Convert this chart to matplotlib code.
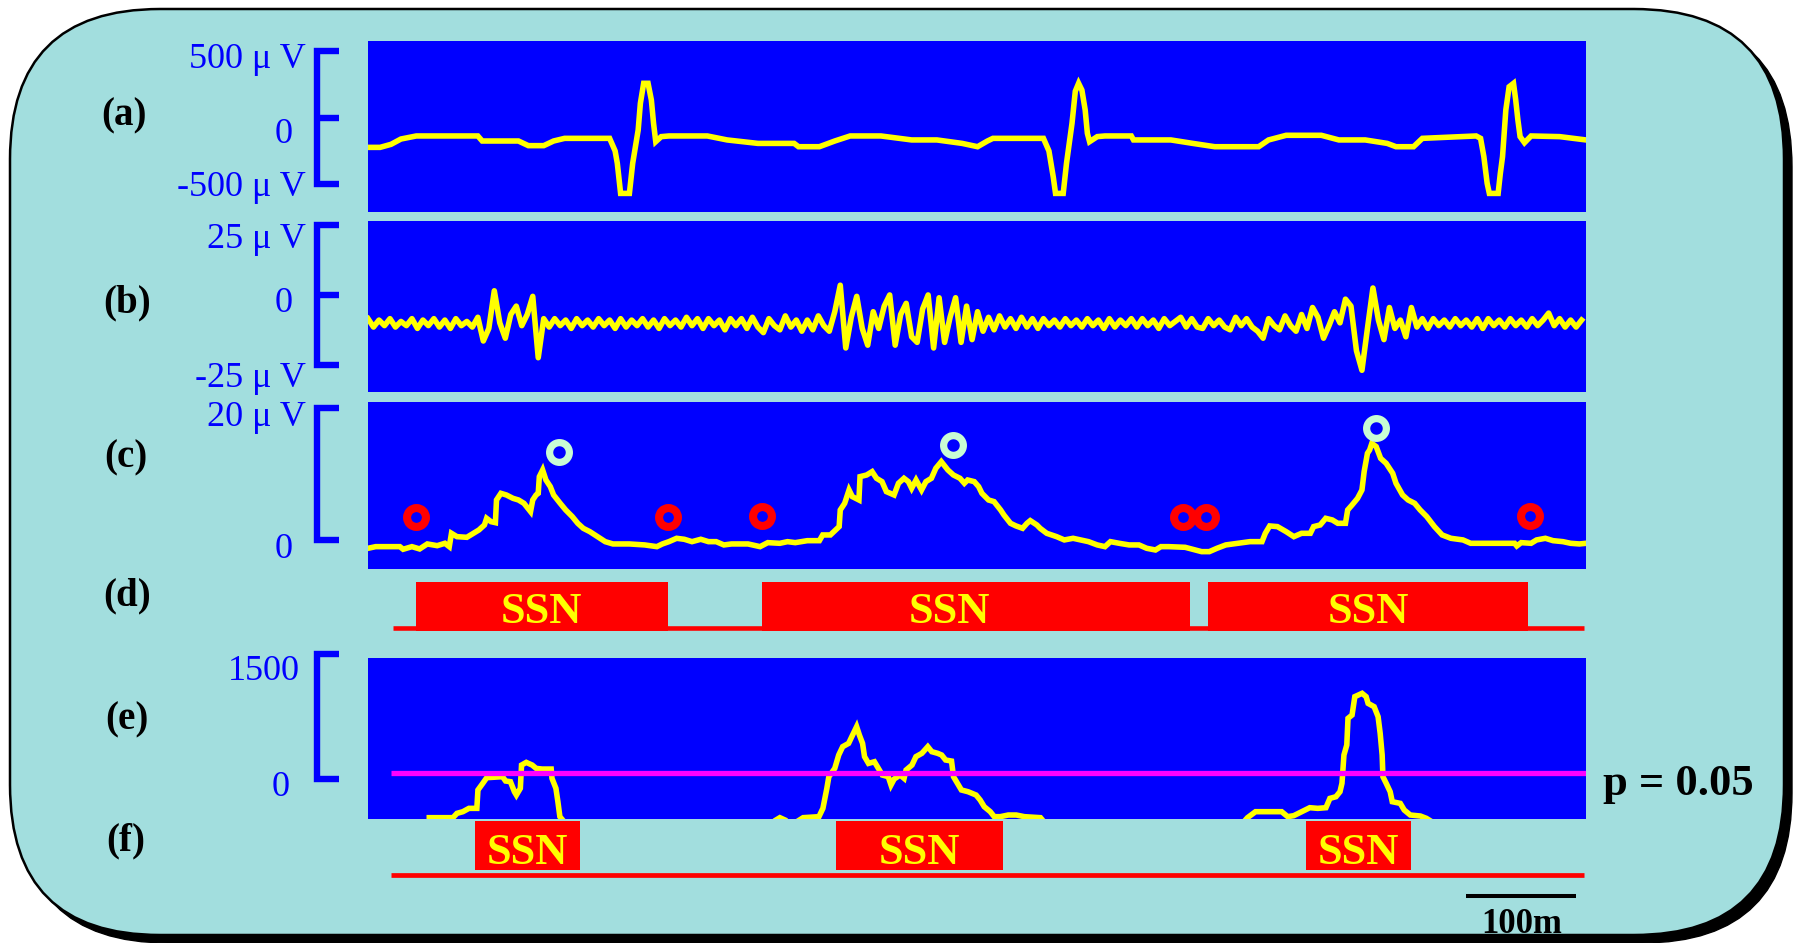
import numpy as np
import matplotlib
matplotlib.use('Agg')
import matplotlib.pyplot as plt
from matplotlib.patches import FancyBboxPatch, Rectangle
from matplotlib.transforms import blended_transform_factory

plt.rcParams['font.family'] = ['Liberation Serif', 'DejaVu Serif']

# ---------------- data (time in ms) ----------------
# (a) ECG, microvolts
ecg_t = [0, 11, 21, 30, 44, 100, 104, 137, 146, 160, 169, 179, 220, 225, 227, 230, 238, 241, 246, 248,
         251, 255, 258, 260, 262, 267, 274, 309, 327, 355, 388, 392, 411, 425, 439, 467, 495, 518, 541, 555,
         564, 569, 615, 620, 624, 626, 633, 636, 641, 644, 647, 650, 653, 655, 657, 664, 671, 695, 697, 731,
         751, 771, 811, 820, 836, 868, 884, 908, 928, 936, 952, 960, 1009, 1013, 1016, 1019, 1021, 1029, 1031, 1033,
         1036, 1039, 1043, 1045, 1047, 1049, 1053, 1059, 1085, 1109]
ecg_v = [-223, -223, -200, -160, -137, -137, -175, -175, -210, -210, -175, -155, -155, -250, -343, -570, -570, -343, -92, 109,
         260, 260, 134, -42, -180, -142, -137, -137, -167, -193, -193, -218, -218, -175, -137, -137, -167, -167, -193, -218,
         -175, -155, -155, -250, -450, -570, -570, -343, -42, 200, 260, 209, 59, -117, -180, -142, -137, -137, -167, -167,
         -193, -218, -218, -167, -132, -132, -167, -167, -193, -218, -218, -155, -137, -155, -293, -494, -570, -570, -419, -293,
         59, 234, 260, 134, -17, -142, -188, -137, -142, -167]

# (b) EMG, microvolts, one value every 5 ms
emg_v = [-8.5, -11.5, -9, -11, -8.5, -11.5, -9.5, -11, -8.5, -12,
         -9, -11, -8.5, -11.5, -9, -12, -8.5, -11, -9.5, -11.5,
         -8, -16.5, -12, 1.5, -10, -15.5, -7, -4, -11, -7,
         -0.5, -22.5, -8.5, -11.5, -8.5, -11, -9, -12, -8.5, -11,
         -9, -11.5, -8.5, -11, -9, -12, -8.5, -11.5, -9, -11,
         -8.5, -11.5, -9, -12, -8.5, -11, -9, -11.5, -8, -11,
         -8.5, -12, -8.5, -11, -9, -12.5, -8.5, -11, -8.5, -12,
         -8, -11.5, -13.5, -8.5, -11, -12.5, -7.5, -11.5, -9, -13,
         -9, -12.5, -7.5, -11, -13, -6, 3.5, -19, -8, -0.5,
         -12, -18, -6, -12, -4, 0, -18, -7, -3, -15,
         -17, -5, 0, -19, -1, -17, -8, -1, -17, -4,
         -16, -6, -13, -8, -12.5, -7.5, -11.5, -8.5, -12, -8,
         -11.5, -8.5, -12, -8.5, -11, -9, -11.5, -8.5, -11, -9,
         -11.5, -8.5, -11, -9, -12, -8.5, -11.5, -9, -11, -8.5,
         -11.5, -8.5, -11, -9, -12, -8.5, -11, -9.5, -8, -11.5,
         -8.5, -11.5, -12, -8.5, -11, -9, -11.5, -12.5, -8, -11,
         -8.5, -11.5, -13, -15.5, -8.5, -11, -12.5, -7.5, -11, -13,
         -7, -12, -4.5, -8, -15.5, -11, -6, -10, -1.5, -4,
         -20, -27, -12, 2.5, -9, -16, -4.5, -12, -9, -15,
         -4.5, -11.5, -8.5, -12, -8.5, -11, -9, -11.5, -8.5, -11,
         -9, -11.5, -8.5, -12, -8.5, -11, -9, -11.5, -8.5, -11,
         -9, -11.5, -8.5, -11, -9, -6.5, -11, -8.5, -11.5, -9,
         -11.5, -9]
emg_step = 5

# (c) envelope, microvolts
env_t = [0, 7, 29, 32, 40, 47, 54, 63, 70, 74,
         76, 81, 90, 96, 101, 106, 108, 112, 116, 117,
         121, 126, 132, 137, 142, 148, 150, 153, 155, 156,
         159, 162, 166, 169, 175, 180, 186, 191, 196, 202,
         209, 216, 223, 238, 252, 263, 268, 274, 281, 288,
         295, 303, 310, 317, 324, 331, 346, 357, 364, 375,
         382, 389, 400, 411, 414, 421, 429, 430, 434, 438,
         441, 447, 448, 454, 459, 463, 468, 472, 479, 483,
         488, 492, 495, 499, 504, 508, 513, 517, 522, 528,
         533, 539, 543, 546, 552, 556, 559, 565, 570, 576,
         579, 585, 590, 596, 600, 603, 609, 612, 618, 627,
         634, 642, 649, 656, 664, 671, 676, 684, 693, 702,
         709, 717, 722, 729, 744, 751, 759, 766, 773, 781,
         792, 803, 814, 817, 821, 828, 836, 843, 850, 858,
         861, 867, 872, 878, 883, 890, 892, 896, 901, 905,
         907, 910, 912, 914, 918, 922, 927, 933, 936, 942,
         947, 953, 958, 964, 971, 978, 986, 997, 1004, 1015,
         1044, 1046, 1050, 1059, 1064, 1072, 1079, 1088, 1095, 1103,
         1109]
env_v = [-1.3, -1.05, -1.05, -1.45, -1.05, -1.4, -0.64, -0.9, -0.54, -1.05,
         0.98, 0.47, 0.37, 0.98, 1.49, 2.25, 3.26, 2.75, 2.6, 6.05,
         7.06, 6.81, 6.3, 6.05, 5.54, 4.28, 6.05, 6.81, 7.06, 9.6,
         10.61, 9.09, 8.08, 6.81, 5.54, 4.53, 3.52, 2.5, 1.74, 1.23,
         0.47, -0.29, -0.64, -0.64, -0.79, -1.05, -0.64, -0.29, 0.22, 0.07,
         -0.29, 0.07, -0.29, -0.29, -0.79, -0.64, -0.64, -1.05, -0.44, -0.54,
         -0.29, -0.44, -0.14, -0.14, 0.73, 0.73, 2.0, 4.53, 5.54, 7.57,
         6.56, 6.05, 9.6, 9.85, 10.36, 9.35, 8.84, 7.32, 6.81, 8.59,
         9.35, 8.84, 7.83, 9.09, 7.57, 8.84, 9.35, 10.87, 11.88, 10.61,
         9.85, 9.35, 8.59, 9.09, 8.84, 8.08, 7.06, 6.05, 5.8, 4.53,
         3.77, 2.5, 2.1, 1.74, 2.5, 2.91, 2.25, 1.74, 0.98, 0.47,
         -0.03, 0.22, -0.03, -0.29, -0.79, -1.05, -0.29, -0.54, -0.79, -0.79,
         -1.3, -1.56, -1.05, -1.05, -1.15, -1.45, -1.81, -1.81, -1.3, -0.79,
         -0.54, -0.29, -0.29, 0.98, 2.1, 2.0, 1.23, 0.47, 0.98, 0.98,
         2.0, 2.25, 3.26, 3.01, 2.5, 2.5, 4.53, 5.29, 6.3, 7.57,
         10.36, 13.15, 13.66, 14.67, 14.16, 12.39, 11.63, 10.11, 8.59, 6.81,
         6.05, 5.54, 4.53, 3.52, 2.0, 0.73, 0.22, -0.03, -0.54, -0.54,
         -0.54, -0.95, -0.44, -0.54, -0.03, 0.22, -0.14, -0.29, -0.54, -0.64,
         -0.54]
peak_t = [173.6, 532.4, 917.9]
peak_v = [13.3, 14.4, 16.95]
onset_t = [43.9, 273.0, 358.8, 742.2, 763.1, 1058.1]
onset_v = [3.41, 3.41, 3.67, 3.41, 3.41, 3.62]

# (d) detected SSN intervals
d_start = [43.5, 358.3, 764.5]
d_end = [272.9, 748.4, 1056.5]
d_label_t = [158, 529, 911]

# (e) statistic (nan = below the visible range)
nan = np.nan
stat_t = [55.8, 77.4, 81.0, 86.4, 91.9, 99.1, 100.1, 104.5, 108.1, 122.5, 125.3, 129.7, 133.3, 135.1, 138.7,
          139.8, 144.1, 149.5, 153.1, 158.5, 166.8, 167.5, 171.1, 172.9, 174.7, 177.2,
          180,
          372, 375, 379,
          381,
          393, 396.2, 410.6, 414.2, 417.8, 419.6, 425.0, 428.6, 432.2, 437.6, 441.2, 444.9, 447.4, 450.3, 452.1,
          455.7, 461.1, 464.7, 468.3, 473.7, 476.2, 479.1, 484.5, 488.1, 489.9, 495.3, 498.9, 504.3, 509.7, 513.3,
          518.7, 522.3, 525.9, 531.3, 533.1, 536.7, 540.3, 546.4, 553.7, 557.4, 561.1, 566.6, 570.2, 575.7, 583.0,
          590.3, 597.7, 612.3, 614,
          700,
          799, 800.8, 808.1, 831.9, 837.4, 842.9, 850.2, 857.5, 864.8, 872.2, 875.8, 881.3, 885.0, 886.8, 888.6,
          891.2, 892.3, 896.0, 898.5, 905.1, 908.8, 910.6, 916.1, 919.7, 921.6, 923.4, 924.1, 927.1, 930.7, 932.6,
          939.9, 943.5, 949.0, 958.2, 963.7, 966]
stat_v = [-468, -468, -416, -396, -356, -356, -135, -55, 13, 25, -27, -35, -156, -196, -115,
          165, 197, 165, 125, 117, 117, 5, -115, -276, -456, -496,
          nan,
          -492, -468, -492,
          nan,
          -495, -468, -456, -356, -115, 25, 125, 286, 386, 426, 526, 627, 526, 426, 266,
          185, 205, 125, 45, 25, -75, -3, 45, 5, 105, 165, 266, 306, 386, 326,
          306, 286, 226, 213, 25, -55, -135, -156, -196, -256, -336, -396, -456, -456, -436,
          -436, -456, -468, -495,
          nan,
          -495, -468, -396, -396, -456, -444, -396, -348, -356, -348, -236, -216, -156, -55, 286,
          406, 727, 767, 988, 1028, 988, 907, 867, 747, 546, 286, 25, -55, -156, -276,
          -296, -376, -436, -448, -476, -495]
threshold = 70  # p = 0.05

# (f) significant SSN intervals
f_start = [97.3, 426.0, 854.0]
f_end = [192.9, 578.0, 950.0]

# ---------------- figure ----------------
W, H = 1793, 943
fig = plt.figure(figsize=(W / 100, H / 100), dpi=100)
fig.patch.set_facecolor('white')

bg = fig.add_axes([0, 0, 1, 1])
bg.set_zorder(0)
bg.axis('off')

BOXC = '#a2dede'
bstyle = 'round,pad=0,rounding_size=150'
bg.add_patch(FancyBboxPatch((18, 17), 1774, 926, boxstyle=bstyle, fc='black', ec='black', lw=1))
bg.add_patch(FancyBboxPatch((10, 9), 1774, 926, boxstyle=bstyle, fc=BOXC, ec='black', lw=1.8))

PX0, PX1 = 368, 1586
XMAX = 1109
BLUE = '#0000ff'
YEL = '#ffff00'
LW = 4.0


def panel(y0, y1, ylim):
    ax = fig.add_axes([PX0 / W, 1 - y1 / H, (PX1 - PX0) / W, (y1 - y0) / H])
    ax.set_zorder(1)
    ax.set_facecolor(BLUE)
    ax.set_xlim(0, XMAX)
    ax.set_ylim(*ylim)
    ax.set_xticks([])
    ax.set_yticks([])
    for s in ax.spines.values():
        s.set_visible(False)
    return ax


def bracket(ax, top, bottom, mid=None):
    tr = blended_transform_factory(bg.transData, ax.transData)
    bg.plot([339, 317, 317, 339], [top, top, bottom, bottom], transform=tr, color=BLUE, lw=4.6,
            solid_joinstyle='miter', solid_capstyle='butt', clip_on=False)
    if mid is not None:
        bg.plot([317, 339], [mid, mid], transform=tr, color=BLUE, lw=4.6,
                solid_capstyle='butt', clip_on=False)


# (a)
ax_a = panel(41, 211.7, (-708, 579))
ax_a.plot(ecg_t, ecg_v, color=YEL, lw=LW, solid_joinstyle='miter')
bracket(ax_a, 500, -500, 0)

# (b)
ax_b = panel(221, 391.5, (-34.6, 26.5))
emg_t = np.arange(len(emg_v)) * emg_step
ax_b.plot(emg_t, emg_v, color=YEL, lw=LW)
bracket(ax_b, 25, -25, 0)

# (c)
ax_c = panel(401.7, 569, (-4.45, 21.0))
ax_c.plot(env_t, env_v, color=YEL, lw=LW, solid_joinstyle='miter')
ax_c.plot(peak_t, peak_v, 'o', ms=14.2, mfc='none', mec='#c8fcd4', mew=5.2)
ax_c.plot(onset_t, onset_v, 'o', ms=13.6, mfc='none', mec='#ff0000', mew=5.8)
bracket(ax_c, 20, 0)

# (d)
ax_d = fig.add_axes([PX0 / W, 1 - 660 / H, (PX1 - PX0) / W, 90 / H])
ax_d.set_zorder(1)
ax_d.set_xlim(0, XMAX)
ax_d.set_ylim(660, 570)
ax_d.axis('off')
ax_d.plot([22.9, 1107], [628.3, 628.3], color='red', lw=3.3, solid_capstyle='butt')
for s0, s1 in zip(d_start, d_end):
    ax_d.add_patch(Rectangle((s0, 582), s1 - s0, 48.6, fc='red', ec='none'))
for tx in d_label_t:
    ax_d.text(tx, 623, 'SSN', ha='center', va='baseline', fontsize=32,
              fontweight='bold', color=YEL)

# (e)
ax_e = panel(658, 819, (-484, 1453))
ax_e.plot(stat_t, stat_v, color=YEL, lw=LW, solid_joinstyle='miter')
ax_e.plot([20.9, XMAX], [threshold, threshold], color='#ff00ff', lw=3.8, solid_capstyle='butt')
bracket(ax_e, 1500, 0)

# (f)
ax_f = fig.add_axes([PX0 / W, 0, (PX1 - PX0) / W, (H - 819) / H])
ax_f.set_zorder(1)
ax_f.set_xlim(0, XMAX)
ax_f.set_ylim(H, 819)
ax_f.axis('off')
ax_f.plot([20.8, 1107], [875, 875], color='red', lw=3.4, solid_capstyle='butt')
for s0, s1 in zip(f_start, f_end):
    ax_f.add_patch(Rectangle((s0, 821), s1 - s0, 49, fc='red', ec='none'))
    ax_f.text((s0 + s1) / 2, 864.5, 'SSN', ha='center', va='baseline', fontsize=32,
              fontweight='bold', color=YEL)
# time scale bar: 100 ms
ax_f.plot([1000, 1100], [896, 896], color='black', lw=2.9, solid_capstyle='butt', clip_on=False)
ax_f.text(1050, 933, '100m', ha='center', va='baseline', fontsize=25, fontweight='bold',
          color='black', clip_on=False)

# scale labels
lab = dict(ha='right', va='baseline', fontsize=26, color=BLUE)
bg.text(306, 68, '500 \u03bc V', **lab)
bg.text(293, 143, '0', **lab)
bg.text(306, 196.5, '-500 \u03bc V', **lab)
bg.text(306, 248, '25 \u03bc V', **lab)
bg.text(293, 311.5, '0', **lab)
bg.text(306, 387, '-25 \u03bc V', **lab)
bg.text(306, 426, '20 \u03bc V', **lab)
bg.text(293, 558.5, '0', **lab)
bg.text(300, 680, '1500', **lab)
bg.text(290, 796.5, '0', **lab)

# panel letters
for lbl, x, y in [('(a)', 124, 116), ('(b)', 127, 303), ('(c)', 126, 458),
                  ('(d)', 127, 596), ('(e)', 127, 720), ('(f)', 126, 841)]:
    bg.text(x, y, lbl, ha='center', va='center', fontsize=28, fontweight='bold', color='black')

bg.text(1603, 795, 'p = 0.05', ha='left', va='baseline', fontsize=32, fontweight='bold', color='black')

bg.set_xlim(0, W)
bg.set_ylim(H, 0)

fig.savefig('out.png', dpi=100, facecolor='white')
